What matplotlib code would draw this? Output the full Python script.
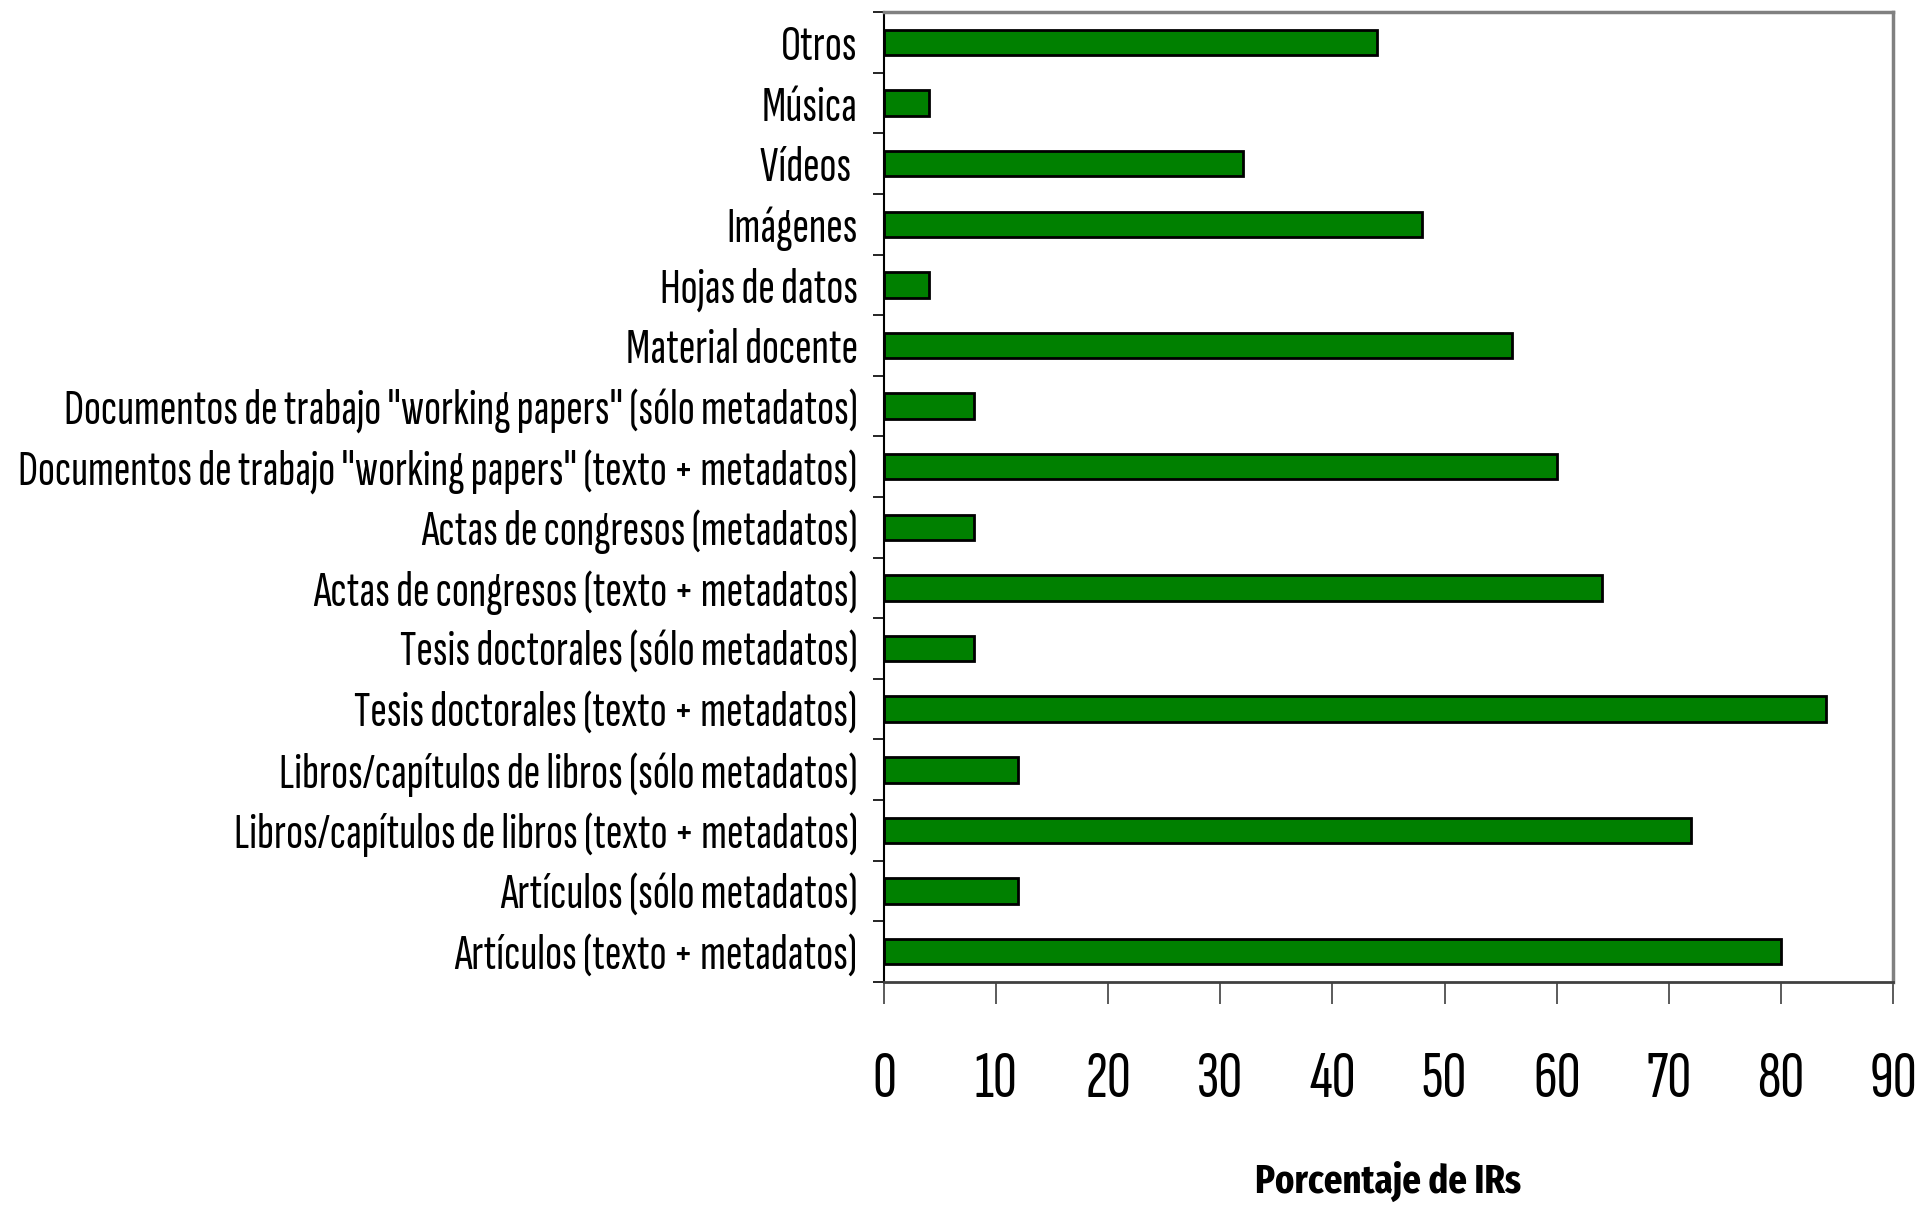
import numpy as np
import matplotlib
matplotlib.use('Agg')
import matplotlib.pyplot as plt
from matplotlib.ticker import FixedLocator

# data, bottom to top as drawn
categorias = [
    'Artículos (texto + metadatos)',
    'Artículos (sólo metadatos)',
    'Libros/capítulos de libros (texto + metadatos)',
    'Libros/capítulos de libros (sólo metadatos)',
    'Tesis doctorales (texto + metadatos)',
    'Tesis doctorales (sólo metadatos)',
    'Actas de congresos (texto + metadatos)',
    'Actas de congresos (metadatos)',
    'Documentos de trabajo "working papers" (texto + metadatos)',
    'Documentos de trabajo "working papers" (sólo metadatos)',
    'Material docente',
    'Hojas de datos',
    'Imágenes',
    'Vídeos ',
    'Música',
    'Otros',
]
porcentaje = [80, 12, 72, 12, 84, 8, 64, 8, 60, 8, 56, 4, 48, 32, 4, 44]
xticks = [0, 10, 20, 30, 40, 50, 60, 70, 80, 90]

fam = ['Sofia Sans Extra Condensed', 'Fira Sans Extra Condensed', 'DejaVu Sans']
plt.rcParams['font.family'] = fam

fig = plt.figure(figsize=(19.19, 12.09), dpi=100)
ax = fig.add_axes([0.4606, 0.1878, 0.5259, 0.8022])

y = np.arange(len(categorias))
ax.barh(y, porcentaje, height=0.42, color='#008000', edgecolor='black', linewidth=2.0)

ax.set_xlim(0, 90)
ax.set_ylim(-0.5, len(categorias) - 0.5)

ax.set_yticks(y)
ax.set_yticklabels(categorias, fontsize=30)
ax.yaxis.set_minor_locator(FixedLocator(np.arange(-0.5, len(categorias), 1.0)))
ax.tick_params(axis='y', which='major', length=0, pad=19)
ax.tick_params(axis='y', which='minor', length=8, width=1.2, color='black')

ax.set_xticks(xticks)
ax.set_xticklabels([str(t) for t in xticks], fontsize=40)
ax.tick_params(axis='x', which='major', length=16, width=1.2, color='#404040',
               direction='out', pad=34)

xl = ax.set_xlabel('Porcentaje de IRs', fontsize=30, fontweight='bold', labelpad=36,
                   family=['Fira Sans Extra Condensed', 'Roboto Condensed', 'DejaVu Sans'])

# fit the text sizes to the widths seen in the reference (pixels)
fig.canvas.draw()
r = fig.canvas.get_renderer()
w = max(t.get_window_extent(r).width for t in ax.get_yticklabels())
for t in ax.get_yticklabels():
    t.set_fontsize(30 * 842 / w)
t80 = ax.get_xticklabels()[8]
w = t80.get_window_extent(r).width
for t in ax.get_xticklabels():
    t.set_fontsize(40 * 47 / w)
w = xl.get_window_extent(r).width
xl.set_fontsize(30 * 266 / w)

for s in ['top', 'right']:
    ax.spines[s].set_color('#808080')
    ax.spines[s].set_linewidth(2.5)
ax.spines['left'].set_color('black')
ax.spines['left'].set_linewidth(1.5)
ax.spines['bottom'].set_color('#404040')
ax.spines['bottom'].set_linewidth(2.0)

fig.savefig('out.png', dpi=100)
